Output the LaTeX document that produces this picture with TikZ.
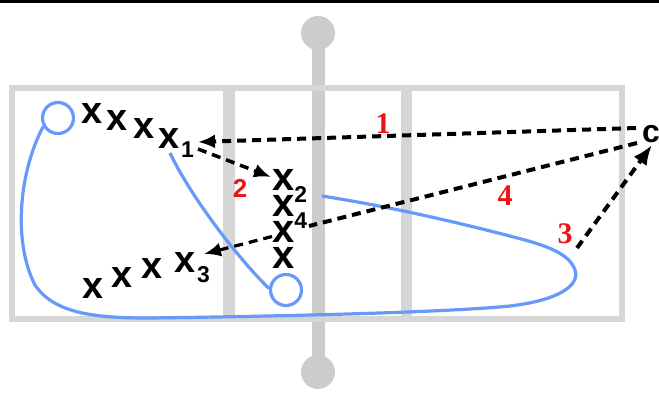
\documentclass[tikz,border=0pt]{standalone}
\usepackage{fontspec}
\setmainfont{Liberation Serif}
\newfontfamily\sansf{Liberation Sans}
\usetikzlibrary{arrows.meta}
\definecolor{framegray}{RGB}{214,214,214}
\definecolor{polegray}{RGB}{204,204,204}
\definecolor{loopblue}{RGB}{102,153,250}
\definecolor{lblred}{RGB}{235,20,20}
\newcommand{\sbx}[1]{\smash{\raisebox{-12bp}{\fontsize{23}{23}\selectfont #1}}}
\tikzset{
  bigx/.style={inner sep=0pt, anchor=base, font=\sansf\bfseries\fontsize{38}{40}\selectfont},
  subx/.style={inner sep=0pt, anchor=base west, font=\sansf\bfseries\fontsize{23}{24}\selectfont},
  stackbox/.style={inner sep=0pt, anchor=north west, align=left, font=\sansf\bfseries\fontsize{40}{26}\selectfont},
  rednum/.style={inner sep=0pt, anchor=base, text=lblred, font=\bfseries\fontsize{30}{30}\selectfont},
  rednumsans/.style={inner sep=0pt, anchor=base, text=lblred, font=\sansf\bfseries\fontsize{26}{26}\selectfont},
  ring/.style={circle, draw=loopblue, line width=3.2bp, minimum size=31bp, inner sep=0pt},
  loopline/.style={draw=loopblue, line width=3.2bp},
  dashline/.style={draw=black, line width=4bp, dash pattern=on 9bp off 6bp},
  tip/.style={-{Latex[length=17bp,width=14bp]}},
}
\begin{document}
\begin{tikzpicture}[x=1bp,y=-1bp]
\useasboundingbox (0,0) rectangle (659,394);
% top black rule
\fill[black] (0,0) rectangle (659,3.3);
% pole
\fill[polegray] (311.5,33) rectangle (324.5,372);
\fill[polegray] (318,33) circle[radius=17];
\fill[polegray] (318,372) circle[radius=17];
% frame
\draw[framegray, line width=6bp] (12,88) rectangle (622,319);
\fill[framegray] (223,88) rectangle (235,319);
\fill[framegray] (401,88) rectangle (412,319);
% blue loops
\node[ring] (ra) at (58,118) {};
\node[ring] (rb) at (286,290) {};
\coordinate (loopend) at (322,196);
\draw[loopline] (ra.210) .. controls (20,170) and (12,240) .. (35,285)
  .. controls (55,315) and (100,318) .. (150,318)
  .. controls (300,316) and (450,312) .. (510,306)
  .. controls (560,300) and (580,285) .. (575,270)
  .. controls (570,255) and (550,247) .. (525,240)
  .. controls (450,220) and (380,205) .. (loopend);
\coordinate (bstart) at (170,153);
\draw[loopline] (bstart) .. controls (190,195) and (235,255) .. (rb.175);
% letters
\node[bigx] (t1) at (92,123) {x};
\node[bigx] (t2) at (117,130) {x};
\node[bigx] (t3) at (144,138) {x};
\node[bigx] (x1) at (169,148) {x};
\node[subx] (x1s) at (181,157) {1};
\node[bigx] (b1) at (93,298) {x};
\node[bigx] (b2) at (122,287) {x};
\node[bigx] (b3) at (152,278) {x};
\node[bigx] (x3) at (185,272) {x};
\node[subx] (x3s) at (197,282) {3};
\node[stackbox] (stack) at (272,169.2) {x\sbx{2}\\x\sbx{4}\\x\\x};
\node[inner sep=0pt, anchor=base west, font=\sansf\bfseries\fontsize{32}{32}\selectfont] (c) at (642,142) {c};
% connector end points
\coordinate (c1) at (636,128);
\coordinate (x1in) at (198,142);
\coordinate (x1out) at (198,149);
\coordinate (x2in) at (271,177);
\coordinate (from3) at (577,248);
\coordinate (cin) at (652,145);
\coordinate (c4) at (637,143);
\coordinate (x4r) at (309,226);
\coordinate (x4l) at (272,236.5);
\coordinate (x3in) at (204,254);
% dashed arrows
\draw[dashline, tip] (c1) -- (x1in);
\draw[dashline, line width=3.5bp, tip] (x1out) -- (x2in);
\draw[dashline, -{Latex[length=20bp,width=16bp]}] (from3) -- (cin);
\draw[dashline] (c4) -- (x4r);
\draw[dashline, line width=3.2bp, tip] (x4l) -- (x3in);
% red step labels
\node[rednum] (n1) at (383,133) {1};
\node[rednumsans] (n2) at (240,197) {2};
\node[rednum] (n3) at (565,243) {3};
\node[rednum] (n4) at (505,205) {4};
\end{tikzpicture}
\end{document}
